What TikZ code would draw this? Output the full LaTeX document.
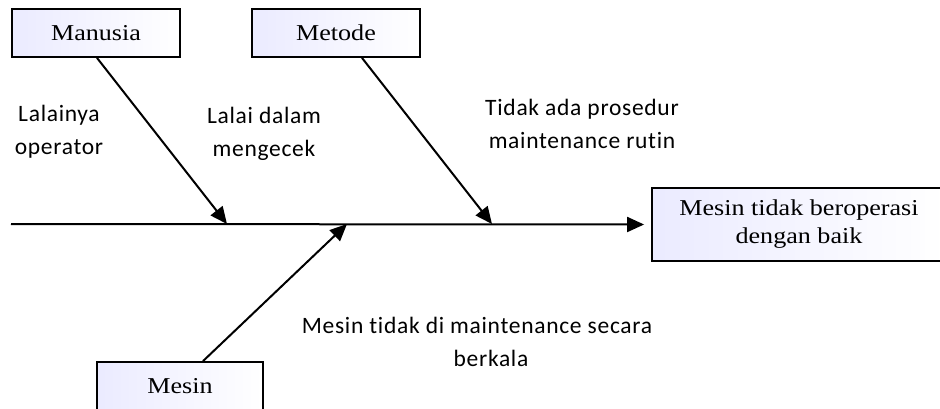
\documentclass[tikz,border=0pt]{standalone}
\usepackage{fontspec}
\setmainfont{Liberation Serif}[FakeStretch=1.15]
\newfontfamily\notefont{Carlito}[LetterSpace=3, Ligatures={NoCommon}, RawFeature={-liga}]
\usetikzlibrary{arrows.meta,shadows}
\begin{document}
\begin{tikzpicture}[x=1pt,y=-1pt,
  causebox/.style={draw=black, line width=1.8pt,
    left color=blue!8!white, right color=white,
    font=\fontsize{22.7}{28}\selectfont, align=center, inner sep=0pt,
    drop shadow={shadow xshift=0.6pt, shadow yshift=-1.2pt, opacity=0.35}},
  note/.style={font=\notefont\fontsize{23.5}{33}\selectfont, align=center, inner sep=0pt},
  bone/.style={line width=2pt, -{Triangle[length=17pt,width=15pt]}}]
\useasboundingbox (0,0) rectangle (940,408);
\clip (0,0) rectangle (940,408);

% category boxes and the effect box
\node[causebox, minimum width=168pt, minimum height=48pt] (manusia) at (96,33) {Manusia};
\node[causebox, minimum width=168pt, minimum height=48pt] (metode) at (336,33) {Metode};
\node[causebox, minimum width=166pt, minimum height=48pt] (mesin) at (180,386) {Mesin};
\node[causebox, minimum width=294pt, minimum height=73pt] (effect) at (799,224.5)
  {Mesin tidak beroperasi\\dengan baik};

% spine and its joints
\coordinate (tail) at (11,224);
\coordinate (j1) at (227,224);
\coordinate (j2) at (492,224);
\coordinate (j3) at (347,224);

\draw[bone] (tail) -- ([xshift=-7pt]effect.west);
\draw[bone] ([xshift=1pt]manusia.south) -- (j1);
\draw[bone] ([xshift=26pt]metode.south) -- (j2);
\draw[bone] ([xshift=23pt]mesin.north) -- (j3);

% causes
\node[note] (n1) at (59,132) {Lalainya\\operator};
\node[note] (n2) at (264,134) {Lalai dalam\\mengecek};
\node[note] (n3) at (582,124) {Tidak ada prosedur\\maintenance rutin};
\node[note] (n4) at (477,342) {Mesin tidak di maintenance secara\\\hspace*{28pt}berkala};
\end{tikzpicture}
\end{document}
